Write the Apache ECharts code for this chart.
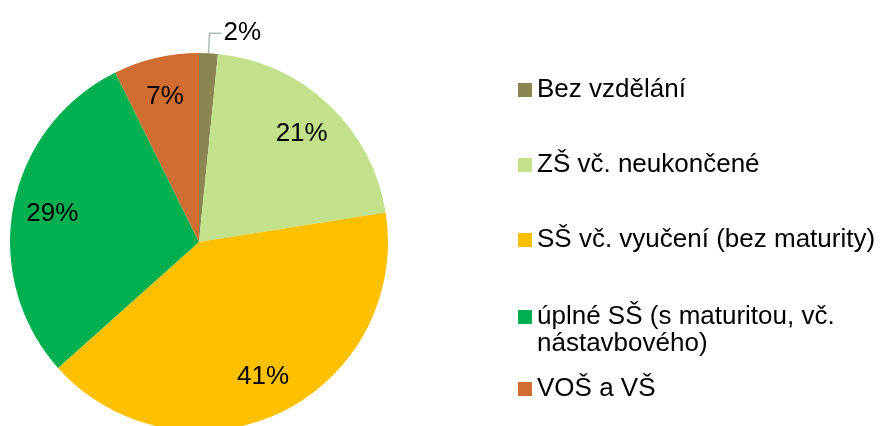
<!DOCTYPE html>
<html>
<head>
<meta charset="utf-8">
<script src="https://cdn.jsdelivr.net/npm/echarts@6/dist/echarts.min.js"></script>
<style>
html,body{margin:0;padding:0;background:#fff;}
#chart{width:886px;height:426px;}
</style>
</head>
<body>
<div id="chart"></div>
<script>
const categories = ['Bez vzdělání', 'ZŠ vč. neukončené', 'SŠ vč. vyučení (bez maturity)', 'úplné SŠ (s maturitou, vč. nástavbového)', 'VOŠ a VŠ'];
const legendLabels = ['Bez vzdělání', 'ZŠ vč. neukončené', 'SŠ vč. vyučení (bez maturity)', 'úplné SŠ (s maturitou, vč.\nnástavbového)', 'VOŠ a VŠ'];
const values = [1.6, 20.9, 40.9, 29.3, 7.3];
const colors = ['#8B8550', '#C3E08B', '#FFC000', '#00B050', '#D06E32'];

const FONT = '"Liberation Sans", Arial, sans-serif';
const chart = echarts.init(document.getElementById('chart'), null, {renderer: 'canvas'});

const data = categories.map((c, i) => ({name: c, value: values[i], itemStyle: {color: colors[i]}}));
const labelData = categories.map((c, i) => {
  const d = {name: c, value: values[i]};
  if (i === 0) {
    d.label = {position: 'outside', distanceToLabelLine: 2, padding: [0, 0, 16, 0]};
    d.labelLine = {show: true, length: 20, length2: 12, lineStyle: {color: '#a9bcb7', width: 1.5}};
  }
  return d;
});

const legendTops = [76.5, 151.5, 226.5, 276.5, 375.5];
const legends = categories.map((c, i) => ({
  data: [c],
  orient: 'vertical',
  left: 518,
  top: legendTops[i],
  padding: 0,
  icon: 'rect',
  itemWidth: 14,
  itemHeight: 14,
  selectedMode: false,
  formatter: () => (legendLabels[i].indexOf('\n') >= 0 ? '\n' : '') + legendLabels[i],
  textStyle: {
    fontFamily: FONT, fontSize: 26, color: '#000', lineHeight: 27
  }
}));

chart.setOption({
  animation: false,
  backgroundColor: '#fff',
  legend: legends,
  series: [
    {
      type: 'pie',
      center: [199, 242],
      radius: [0, 189],
      startAngle: 90,
      clockwise: true,
      avoidLabelOverlap: false,
      label: {show: false},
      labelLine: {show: false},
      itemStyle: {borderWidth: 0},
      emphasis: {disabled: true},
      data: data
    },
    {
      type: 'pie',
      center: [199, 242],
      radius: [104, 189],
      startAngle: 90,
      clockwise: true,
      silent: true,
      avoidLabelOverlap: false,
      legendHoverLink: false,
      itemStyle: {color: 'rgba(0,0,0,0)', borderWidth: 0},
      emphasis: {disabled: true},
      label: {
        show: true,
        position: 'inside',
        fontFamily: FONT,
        fontSize: 26,
        color: '#000',
        formatter: p => Math.round(p.percent) + '%'
      },
      labelLine: {show: false},
      data: labelData
    }
  ]
});
</script>
</body>
</html>
